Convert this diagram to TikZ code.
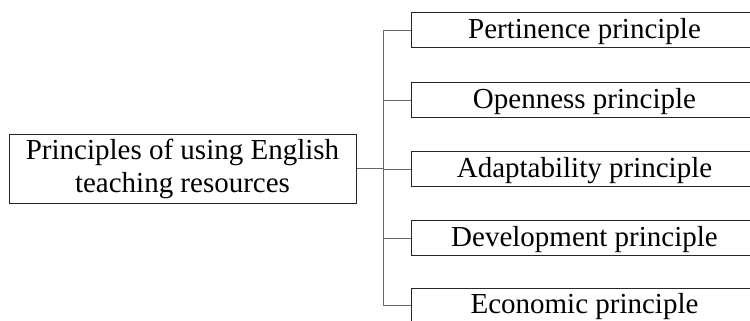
\documentclass[tikz,border=0pt]{standalone}
\usepackage{fontspec}
\setmainfont{Liberation Serif}
\begin{document}
\begin{tikzpicture}[x=1pt,y=-1pt,
  box/.style={draw=black!85, line width=1pt, inner sep=0pt, align=center,
    font=\fontsize{29}{33}\selectfont},
  rootbox/.style={box, minimum width=347pt, minimum height=69pt},
  leafbox/.style={box, anchor=west, minimum width=346pt, minimum height=35pt,
    text height=21pt, text depth=5pt},
  link/.style={draw=black!60, line width=1pt}]
\useasboundingbox (0,0) rectangle (750,321);
\clip (0,0) rectangle (750,321);
\node[rootbox] (root) at (182.5,168.5) {Principles of using English\\teaching resources};
\node[leafbox] (p1) at (411,30.5) {Pertinence principle};
\node[leafbox] (p2) at (411,100) {Openness principle};
\node[leafbox] (p3) at (411,169) {Adaptability principle};
\node[leafbox] (p4) at (411,238) {Development principle};
\node[leafbox] (p5) at (411,305.5) {Economic principle};
\coordinate (j) at (383.5,168.5);
\draw[link] (root.east) -- (j);
\foreach \k in {1,...,5} { \draw[link] (j) |- (p\k.west); }
\end{tikzpicture}
\end{document}
